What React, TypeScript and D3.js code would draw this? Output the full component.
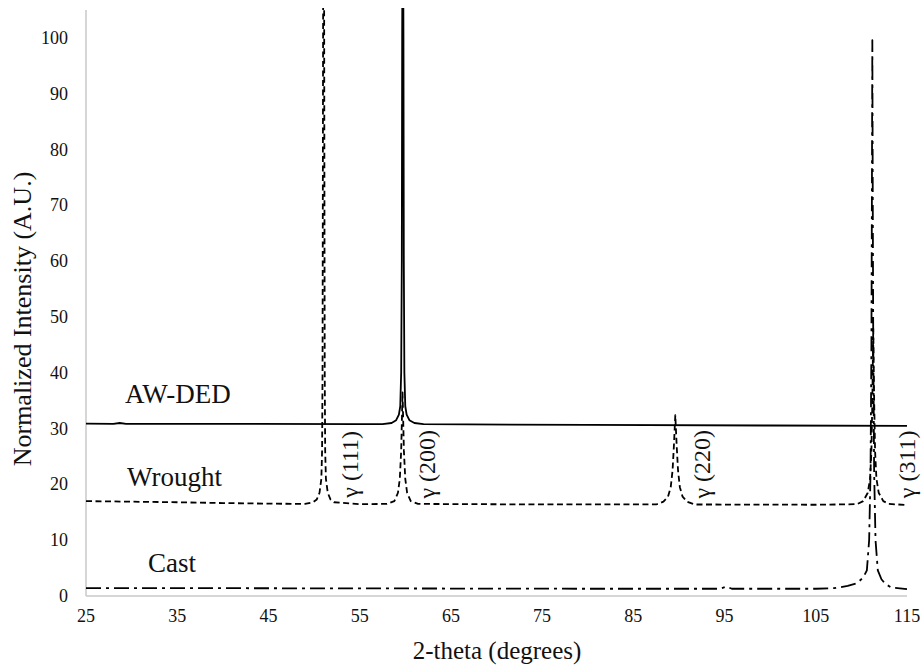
import React from 'react';
import * as d3 from 'd3';

// 2-theta (deg), normalized intensity
const awDed: [number, number][] = [
  [25, 30.9], [28, 30.85], [28.7, 31.0], [29.4, 30.85], [40, 30.85], [55, 30.8],
  [57.5, 30.8], [58.5, 31.0], [59.0, 31.5], [59.3, 32.5], [59.45, 34], [59.55, 40],
  [59.62, 60], [59.66, 100], [59.68, 110], [59.78, 110], [59.8, 100], [59.84, 60],
  [59.9, 40], [60.0, 34], [60.15, 32.5], [60.45, 31.5], [61.0, 31.0], [62, 30.8],
  [80, 30.65], [100, 30.55], [115, 30.5],
];

const wrought: [number, number][] = [
  [25, 17.0], [30, 16.9], [35, 16.8], [40, 16.65], [45, 16.55], [49, 16.5],
  [49.9, 16.8], [50.3, 17.3], [50.6, 18.5], [50.8, 21], [50.88, 26], [50.93, 40],
  [50.97, 80], [51.0, 110], [51.1, 110], [51.13, 80], [51.17, 40], [51.22, 26],
  [51.3, 21], [51.5, 18.5], [51.8, 17.3], [52.2, 16.8], [55, 16.45],
  [58.0, 16.5], [58.8, 17.0], [59.2, 18.5], [59.4, 21], [59.55, 26], [59.7, 36.5],
  [59.85, 26], [60.0, 21], [60.2, 18.5], [60.6, 17.0], [61.4, 16.5],
  [75, 16.4], [87.5, 16.4], [88.3, 16.9], [88.8, 17.8], [89.1, 19.5], [89.3, 22.5],
  [89.45, 27], [89.6, 32.4], [89.75, 27], [89.9, 22.5], [90.1, 19.5], [90.4, 17.8],
  [90.9, 16.9], [91.7, 16.4], [105, 16.35], [109.5, 16.45], [110.2, 17.0],
  [110.7, 18.5], [110.95, 21], [111.1, 26], [111.2, 35], [111.3, 48], [111.4, 35],
  [111.5, 26], [111.65, 21], [111.9, 18.5], [112.4, 17.0], [113, 16.5], [115, 16.3],
];

const cast: [number, number][] = [
  [25, 1.4], [40, 1.4], [60, 1.35], [80, 1.3], [94.5, 1.3], [95.2, 1.7], [95.8, 1.3],
  [105, 1.3], [107, 1.4], [108.5, 1.8], [109.5, 2.3], [110.2, 3.3], [110.6, 4.6],
  [110.85, 10], [111.0, 22], [111.1, 45], [111.15, 70], [111.2, 99.6], [111.25, 70],
  [111.3, 45], [111.4, 22], [111.55, 10], [111.8, 4.6], [112.2, 3.0], [112.6, 2.2],
  [113.3, 1.5], [115, 1.25],
];

const xTicks = [25, 35, 45, 55, 65, 75, 85, 95, 105, 115];
const yTicks = [0, 10, 20, 30, 40, 50, 60, 70, 80, 90, 100];
const seriesNames = ['AW-DED', 'Wrought', 'Cast'];
const peakLabels = ['γ (111)', 'γ (200)', 'γ (220)', 'γ (311)'];
const peakLabelTheta = [53.9, 62.4, 92.5, 115.0];

const FONT = '"Liberation Serif"';

export default function App() {
  const W = 923, H = 672;
  const x = d3.scaleLinear().domain([25, 115]).range([86, 907]);
  const y = d3.scaleLinear().domain([0, 105]).range([596, 10]);
  const line = d3.line<[number, number]>().x(d => x(d[0])).y(d => y(d[1]));

  const series = [
    { data: awDed, dash: 'none' },
    { data: wrought, dash: '6,3.5' },
    { data: cast, dash: '15,5,3,5' },
  ];
  const nameX = [125, 127, 148];
  const nameY = [403, 486, 572];
  const ts = { fontFamily: FONT };

  return (
    <svg width={W} height={H} viewBox={`0 0 ${W} ${H}`}
      style={{ position: 'absolute', left: 0, top: 0, display: 'block', background: '#fff' }}>
      <defs>
        <clipPath id="plot">
          <rect x={x(25)} y={8} width={x(115) - x(25) + 4} height={y(0) - 8} />
        </clipPath>
      </defs>
      <rect x={0} y={0} width={W} height={H} fill="#fff" />
      <line x1={x(25)} x2={x(25)} y1={y(105)} y2={y(0)} stroke="#c9c9c9" strokeWidth={1.5} />
      <line x1={x(25)} x2={x(115)} y1={y(0)} y2={y(0)} stroke="#c9c9c9" strokeWidth={1.5} />
      {yTicks.map(t => (
        <text key={t} x={68} y={y(t)} textAnchor="end" dominantBaseline="central"
          fontSize={18} fill="#111" style={ts}>{t}</text>
      ))}
      {xTicks.map(t => (
        <text key={t} x={x(t)} y={622} textAnchor="middle" fontSize={18} fill="#111" style={ts}>{t}</text>
      ))}
      <text x={497} y={659} textAnchor="middle" fontSize={25} fill="#111" style={ts}>2-theta (degrees)</text>
      <text transform={`translate(22,319) rotate(-90)`} textAnchor="middle" dominantBaseline="central"
        fontSize={26} fill="#111" style={ts}>Normalized Intensity (A.U.)</text>
      <g clipPath="url(#plot)">
        {series.map((s, i) => (
          <path key={i} d={line(s.data) || ''} fill="none" stroke="#000" strokeWidth={1.8}
            strokeDasharray={s.dash} strokeLinejoin="round" />
        ))}
      </g>
      {seriesNames.map((n, i) => (
        <text key={n} x={nameX[i]} y={nameY[i]} fontSize={27} fill="#111" style={ts}>{n}</text>
      ))}
      {peakLabels.map((l, i) => (
        <text key={l} transform={`translate(${x(peakLabelTheta[i])},${y(23.6)}) rotate(-90)`}
          textAnchor="middle" dominantBaseline="central" fontSize={24} fill="#111" style={ts}>{l}</text>
      ))}
    </svg>
  );
}
